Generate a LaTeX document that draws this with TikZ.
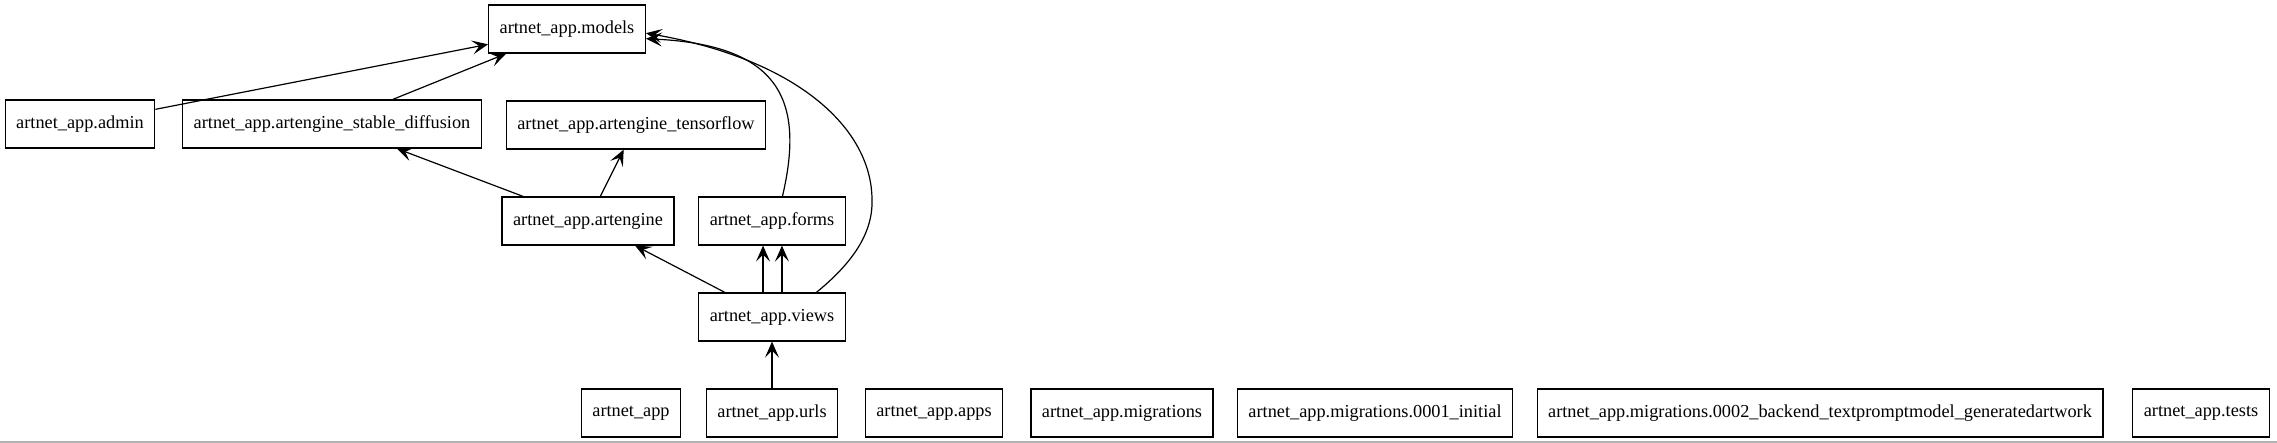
\documentclass[tikz,border=0pt]{standalone}
\usepackage{fontspec}
\setmainfont{Liberation Serif}
\usetikzlibrary{arrows.meta}

\begin{document}
\begin{tikzpicture}[x=1pt,y=-1pt,font=\fontsize{18.3}{22}\selectfont,
  mod/.style={draw,line width=1.2pt,minimum height=48pt,inner xsep=11pt},
  dep/.style={line width=1.2pt,-{Stealth[length=16pt,width=14pt,inset=7pt]}}]
\useasboundingbox (0,0) rectangle (2277,443);
\fill[white] (0,0) rectangle (2277,443);
\draw[gray!60,line width=2pt] (0,442) -- (2277,442);
\node[mod] (models) at (567, 29) {artnet\_app.models};
\node[mod] (admin) at (80, 124) {artnet\_app.admin};
\node[mod] (stable) at (332, 124) {artnet\_app.artengine\_stable\_diffusion};
\node[mod] (tensorflow) at (636, 125) {artnet\_app.artengine\_tensorflow};
\node[mod] (artengine) at (588, 221) {artnet\_app.artengine};
\node[mod] (forms) at (772, 221) {artnet\_app.forms};
\node[mod] (views) at (772, 317) {artnet\_app.views};
\node[mod] (app) at (631, 413) {artnet\_app};
\node[mod] (urls) at (772, 413) {artnet\_app.urls};
\node[mod] (apps) at (934, 413) {artnet\_app.apps};
\node[mod] (migrations) at (1122, 413) {artnet\_app.migrations};
\node[mod] (initial) at (1375, 413) {artnet\_app.migrations.0001\_initial};
\node[mod] (generated) at (1820, 413) {artnet\_app.migrations.0002\_backend\_textpromptmodel\_generatedartwork};
\node[mod] (tests) at (2201, 413) {artnet\_app.tests};
\draw [dep] (admin) -- (models);
\draw [dep] (stable) -- (models);
\draw [dep] (artengine) -- (stable);
\draw [dep] (artengine) -- (tensorflow);
\draw [dep] (views) -- (artengine);
\draw [dep] (views.110) -- (forms.250);
\draw [dep] (views.68) -- (forms.292);
\draw [dep] (urls) -- (views);
\draw [dep] (forms.67) .. controls (805, 100) and (780, 45) .. (models.-7);
\draw [dep] (views.29) .. controls (850, 265) and (873, 235) .. (872, 200)
  .. controls (872, 130) and (800, 60) .. (models.-3);
\end{tikzpicture}
\end{document}
